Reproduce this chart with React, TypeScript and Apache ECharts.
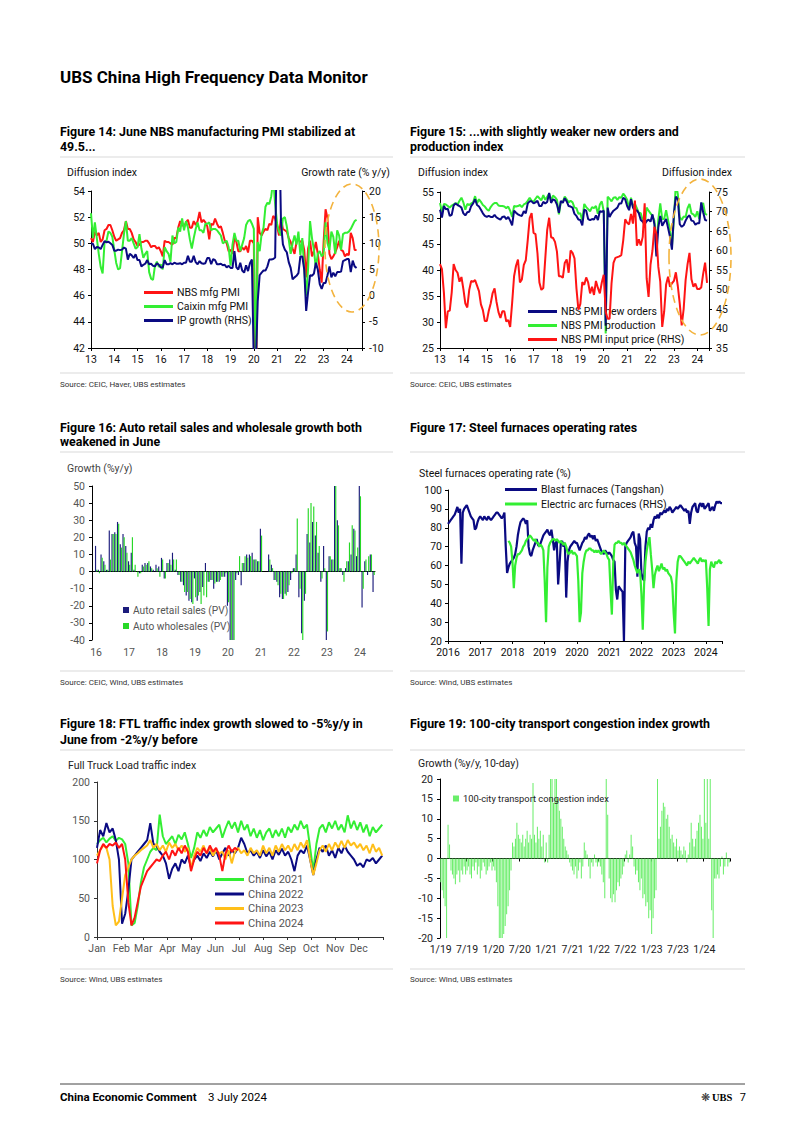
import React, { useEffect, useRef } from "react";
import * as echarts from "echarts";

// ---------------- Figure 14 / 15: monthly, Jan 2013 - Jun 2024 ----------------
const pmiStartYear = 2013;
const nbsMfgPmi = [
  50.4, 50.1, 50.9, 50.6, 50.8, 50.1, 50.3, 51.0, 51.1, 51.4, 51.4, 51.0,
  50.5, 50.2, 50.3, 50.4, 50.8, 51.0, 51.7, 51.1, 51.1, 50.8, 50.3, 50.1,
  49.8, 49.9, 50.1, 50.1, 50.2, 50.2, 50.0, 49.7, 49.8, 49.8, 49.6, 49.7,
  49.4, 49.0, 50.2, 50.1, 50.1, 50.0, 49.9, 50.4, 50.4, 51.2, 51.7, 51.4,
  51.3, 51.6, 51.8, 51.2, 51.2, 51.7, 51.4, 51.7, 52.4, 51.6, 51.8, 51.6,
  51.3, 50.3, 51.5, 51.4, 51.9, 51.5, 51.2, 51.3, 50.8, 50.2, 50.0, 49.4,
  49.5, 49.2, 50.5, 50.1, 49.4, 49.4, 49.7, 49.5, 49.8, 49.3, 50.2, 50.2,
  50.0, 35.7, 52.0, 50.8, 50.6, 50.9, 51.1, 51.0, 51.5, 51.4, 52.1, 51.9,
  51.3, 50.6, 51.9, 51.1, 51.0, 50.9, 50.4, 50.1, 49.6, 49.2, 50.1, 50.3,
  50.1, 50.2, 49.5, 47.4, 49.6, 50.2, 49.0, 49.4, 50.1, 49.2, 48.0, 47.0,
  50.1, 52.6, 51.9, 49.2, 48.8, 49.0, 49.3, 49.7, 50.2, 49.5, 49.4, 49.0,
  49.2, 49.1, 50.8, 50.4, 49.5, 49.5,
];
const caixinMfgPmi = [
  52.3, 50.4, 51.6, 50.4, 49.2, 48.2, 47.7, 50.1, 50.2, 50.9, 50.8, 50.5,
  49.5, 48.5, 48.0, 48.1, 49.4, 50.7, 51.7, 50.2, 50.2, 50.4, 50.0, 49.6,
  49.7, 50.7, 49.6, 48.9, 49.2, 49.4, 47.8, 47.3, 47.2, 48.3, 48.6, 48.2,
  48.4, 48.0, 49.7, 49.4, 49.2, 48.6, 50.6, 50.0, 50.1, 51.2, 50.9, 51.9,
  51.0, 51.7, 51.2, 50.3, 49.6, 50.4, 51.1, 51.6, 51.0, 51.0, 50.8, 51.5,
  51.5, 51.6, 51.0, 51.1, 51.1, 51.0, 50.8, 50.6, 50.0, 50.1, 50.2, 49.7,
  48.3, 49.9, 50.8, 50.2, 50.2, 49.4, 49.9, 50.4, 51.4, 51.7, 51.8, 51.5,
  51.1, 40.3, 50.1, 49.4, 50.7, 51.2, 52.8, 53.1, 53.0, 53.6, 54.9, 53.0,
  51.5, 50.9, 50.6, 51.9, 52.0, 51.3, 50.3, 49.2, 50.0, 50.6, 49.9, 50.9,
  49.1, 50.4, 48.1, 46.0, 48.1, 51.7, 50.4, 49.5, 48.1, 49.2, 49.4, 49.0,
  49.2, 51.6, 50.0, 49.5, 50.9, 50.5, 49.2, 51.0, 50.6, 49.5, 50.7, 50.8,
  50.8, 50.9, 51.1, 51.4, 51.7, 51.8,
];
const ipGrowth = [
  9.9, 9.9, 8.9, 9.3, 9.2, 8.9, 9.7, 10.4, 10.2, 10.3, 10.0, 9.7,
  8.6, 8.6, 8.8, 8.7, 8.8, 9.2, 9.0, 6.9, 8.0, 7.7, 7.2, 7.9,
  6.8, 6.8, 5.6, 5.9, 6.1, 6.8, 6.0, 6.1, 5.7, 5.6, 6.2, 5.9,
  5.4, 5.4, 6.8, 6.0, 6.0, 6.2, 6.0, 6.3, 6.1, 6.1, 6.2, 6.0,
  6.3, 6.3, 7.6, 6.5, 6.5, 7.6, 6.4, 6.0, 6.6, 6.2, 6.1, 6.2,
  7.2, 7.2, 6.0, 7.0, 6.8, 6.0, 6.0, 6.1, 5.8, 5.9, 5.4, 5.7,
  5.3, 5.3, 8.5, 5.4, 5.0, 6.3, 4.8, 4.4, 5.8, 4.7, 6.2, 6.9,
  -13.5, -13.5, -1.1, 3.9, 4.4, 4.8, 4.8, 5.6, 6.9, 6.9, 7.0, 7.3,
  35.1, 35.1, 14.1, 9.8, 8.8, 8.3, 6.4, 5.3, 3.1, 3.5, 3.8, 4.3,
  7.5, 7.5, 5.0, -2.9, 0.7, 3.9, 3.8, 4.2, 6.3, 5.0, 2.2, 1.3,
  2.4, 2.4, 3.9, 5.6, 3.5, 4.4, 3.7, 4.5, 4.5, 4.6, 6.6, 6.8,
  7.0, 7.0, 4.5, 6.7, 5.6, 5.3,
];
const nbsNewOrders = [
  51.6, 50.1, 52.3, 51.7, 51.8, 50.4, 50.6, 52.4, 52.8, 52.5, 52.3, 52.0,
  50.9, 50.5, 51.1, 51.2, 52.3, 52.8, 53.6, 52.5, 52.2, 51.6, 50.9, 50.4,
  50.2, 50.4, 50.2, 50.2, 50.6, 50.1, 49.9, 49.7, 50.2, 50.3, 49.8, 50.2,
  49.5, 48.6, 51.4, 51.0, 50.7, 50.5, 50.4, 51.3, 50.9, 52.8, 53.2, 53.2,
  52.8, 53.0, 53.3, 52.3, 52.3, 53.1, 52.8, 53.1, 54.8, 52.9, 53.6, 53.4,
  52.6, 51.0, 53.3, 52.9, 53.8, 53.2, 52.3, 52.2, 52.0, 50.8, 50.4, 49.7,
  49.6, 48.6, 51.6, 51.4, 49.8, 49.6, 49.8, 49.7, 50.5, 49.6, 51.3, 51.2,
  51.4, 29.3, 52.0, 50.2, 50.9, 51.4, 51.7, 52.0, 52.8, 52.8, 53.9, 53.6,
  52.3, 51.5, 53.6, 52.0, 51.3, 51.5, 50.9, 49.6, 49.3, 48.8, 49.4, 49.7,
  49.3, 50.7, 48.8, 42.6, 48.2, 50.4, 48.5, 49.2, 49.8, 48.1, 46.4, 43.9,
  50.9, 54.1, 53.6, 48.8, 48.3, 48.6, 49.5, 50.2, 50.5, 49.5, 49.4, 48.7,
  49.0, 49.0, 53.0, 51.1, 49.6, 49.5,
];
const nbsProduction = [
  52.9, 51.2, 52.7, 52.6, 52.3, 52.0, 52.4, 52.6, 52.9, 52.6, 53.3, 53.9,
  53.0, 51.6, 52.7, 52.5, 52.8, 53.0, 54.2, 52.8, 53.6, 53.1, 52.5, 52.2,
  51.7, 51.4, 52.1, 52.6, 52.9, 52.9, 52.4, 52.3, 52.3, 52.2, 51.9, 52.2,
  51.4, 50.2, 52.3, 52.2, 52.3, 52.5, 52.1, 52.6, 52.8, 53.3, 53.9, 53.3,
  53.1, 53.7, 54.2, 53.8, 53.4, 54.4, 53.5, 54.1, 54.7, 53.4, 54.3, 54.0,
  53.5, 50.7, 53.1, 53.1, 54.1, 53.6, 53.0, 53.3, 53.0, 52.0, 51.9, 50.8,
  50.9, 49.5, 52.7, 52.1, 51.7, 51.3, 52.1, 51.9, 52.3, 50.8, 52.6, 53.2,
  51.3, 27.8, 54.1, 53.7, 53.2, 53.9, 54.0, 53.5, 54.0, 53.9, 54.7, 54.2,
  53.5, 51.9, 53.9, 52.2, 52.7, 51.9, 51.0, 50.9, 49.5, 48.4, 52.0, 51.4,
  50.9, 50.4, 49.5, 44.4, 49.7, 52.8, 49.8, 49.8, 51.5, 49.6, 47.8, 44.6,
  49.8, 56.7, 54.6, 50.2, 49.6, 50.3, 50.2, 51.9, 52.7, 50.9, 50.7, 50.2,
  51.3, 49.8, 52.2, 52.9, 50.8, 50.6,
];
const nbsInputPrice = [
  56.5, 55.2, 49.2, 40.1, 44.4, 44.6, 49.2, 56.5, 55.0, 54.3, 52.0, 53.2,
  50.1, 46.4, 45.4, 49.9, 52.2, 52.0, 52.4, 51.0, 49.6, 46.2, 44.7, 41.9,
  41.9, 44.5, 46.4, 49.1, 50.3, 46.8, 44.2, 42.7, 44.4, 44.4, 41.8, 42.2,
  40.4, 46.5, 53.4, 56.1, 57.7, 51.8, 52.6, 56.3, 57.5, 62.6, 68.3, 69.6,
  64.5, 64.2, 59.3, 51.8, 49.9, 50.4, 57.9, 65.3, 68.4, 63.4, 63.2, 62.2,
  59.7, 53.4, 53.4, 53.0, 56.8, 57.7, 54.3, 60.0, 59.4, 58.0, 50.3, 44.8,
  46.3, 51.9, 51.2, 53.1, 51.8, 49.0, 50.7, 48.6, 52.2, 50.4, 49.0, 51.8,
  53.8, 44.3, 42.5, 42.5, 51.6, 56.8, 58.1, 58.3, 58.5, 58.8, 62.6, 68.0,
  67.1, 66.7, 69.4, 66.9, 72.8, 61.2, 62.9, 61.3, 63.5, 72.1, 52.9, 48.1,
  56.4, 60.0, 66.1, 64.2, 55.8, 52.0, 40.4, 44.3, 51.3, 53.3, 50.7, 51.6,
  52.2, 54.4, 50.9, 46.4, 40.8, 45.0, 52.4, 56.5, 59.4, 52.6, 50.7, 51.5,
  50.1, 50.1, 50.5, 54.0, 56.9, 51.7,
];

// ---------------- Figure 16: monthly, Dec 2015 - Jun 2024 ----------------
const autoStartYear = 2015;
const autoStartMonthIndex = 11; // December
const autoRetail = [
  0,
  15, 1, 10, 6, 1, 24, 22, 23, 29, 16, 22, 15,
  6, 11, 1, 0, -1, 4, 5, 5, 3, 1, 4, 3,
  8, -4, 5, 7, 11, 1, -2, -6, -8, -14, -17, -18,
  -4, -17, -12, -9, 5, -6, -5, -10, -6, -6, -3, -3,
  -20, -45, -40, -5, -2, -8, 5, 10, 10, 11, 7, 6,
  25, null, null, 10, 4, -5, -6, -15, -16, -13, -12, -5,
  2, 10, -15, -36, -17, 22, 17, 29, 21, 11, -6, 15,
  -40, 9, 7, 55, 30, 2, -2, 2, 6, 10, 25, 9,
  53, -21, 6, -2, 10, -12,
];
const autoWholesale = [
  0,
  1, -1, 8, 4, 1, 7, 22, 22, 28, 14, 20, 11,
  4, 20, 4, -3, -1, 3, 4, 6, 2, 0, 2, -3,
  7, -4, 5, 4, 7, 7, -2, -6, -12, -12, -16, -19,
  -15, -14, -19, -14, -15, -6, -5, -7, -6, -5, -3, -1,
  -18, -45, -40, -1, 9, 5, 9, 8, 9, 7, 7, 6,
  21, null, null, 7, 2, -5, -8, -13, -16, -14, -8, -1,
  2, 31, -10, -47, -13, 37, 40, 38, 29, 15, -4, 2,
  -35, 9, 7, 86, 27, 2, -6, 6, 17, 27, 24, 14,
  44, -10, 7, 9, 10, -2,
];

// ---------------- Figure 17: semi-monthly from 2016 ----------------
const steelStartYear = 2016;
const steelPeriodsPerYear = 24;
const eafStartOffset = 45; // EAF series starts late 2017
const blastFurnace = [
  82, 83, 84, 85, 86, 87, 89, 91, 88, 90, 61, 88, 90, 91, 92, 90, 88, 86, 85, 84, 79, 80, 83, 85,
  86, 85, 84, 86, 85, 84, 86, 85, 84, 85, 86, 87, 88, 88, 87, 86, 85, 86, 88, 70, 56, 59, 61, 62,
  63, 64, 66, 70, 76, 80, 83, 84, 85, 84, 82, 84, 70, 66, 65, 68, 70, 72, 74, 71, 70, 72, 74, 76,
  77, 78, 79, 77, 76, 79, 74, 68, 72, 73, 50, 60, 72, 73, 70, 72, 43, 62, 68, 70, 71, 72, 73, 72,
  72, 70, 68, 70, 72, 73, 75, 74, 76, 77, 75, 76, 74, 76, 73, 74, 72, 70, 68, 67, 66, 68, 67, 66,
  67, 66, 65, 63, 62, 47, 42, 49, 48, 47, 46, 20, 70, 72, 73, 74, 75, 77, 78, 72, 70, 54, 77, 74,
  56, 53, 52, 70, 78, 80, 79, 82, 80, 84, 86, 85, 87, 85, 88, 87, 88, 89, 88, 90, 89, 91, 90, 88,
  89, 90, 91, 90, 91, 92, 91, 90, 89, 90, 88, 89, 82, 88, 91, 92, 93, 89, 88, 92, 93, 91, 93, 90,
  91, 92, 93, 89, 90, 91, 89, 92, 94, 93, 94, 93, 93,
];
const eafRate = [
  73, 72, 70,
  62, 48, 60, 64, 66, 66, 67, 68, 70, 71, 73, 74, 75, 76, 75, 74, 73, 74, 72, 72, 70, 71, 70, 68,
  52, 30, 59, 70, 72, 73, 74, 74, 73, 74, 73, 72, 73, 72, 71, 72, 70, 67, 66, 67, 68, 66, 67, 66,
  65, 52, 30, 35, 56, 62, 66, 68, 68, 69, 69, 68, 68, 67, 68, 67, 68, 67, 66, 67, 68, 67, 66, 64,
  63, 47, 34, 61, 71, 72, 72, 73, 72, 72, 71, 72, 71, 70, 69, 68, 67, 65, 63, 60, 58, 56, 58, 57,
  45, 26, 50, 62, 68, 72, 75, 66, 58, 48, 55, 58, 60, 57, 59, 61, 58, 59, 57, 58, 56, 55, 54, 50,
  35, 24, 52, 62, 65, 65, 64, 63, 62, 61, 60, 62, 61, 62, 63, 64, 63, 62, 61, 63, 64, 62, 63, 62,
  63, 48, 28, 58, 62, 60, 59, 62, 61, 62, 63, 61, 62,
];

// ---------------- Figure 18: every 4 days through the year ----------------
const ftlStepDays = 4;
const ftl2021 = [
  120, 125, 128, 122, 127, 130, 124, 128,
  126, 120, 95, 15, 18, 40, 70, 90,
  100, 110, 115, 112, 158, 130, 120, 125,
  130, 120, 132, 126, 135, 120, 102, 115,
  135, 128, 138, 130, 142, 135, 140, 145,
  128, 140, 150, 140, 148, 135, 150, 138,
  145, 130, 140, 128, 138, 125, 135, 140,
  128, 138, 130, 140, 128, 142, 135, 145,
  138, 150, 140, 145, 115, 85, 120, 140,
  145, 135, 148, 140, 150, 138, 145, 135,
  157, 140, 150, 138, 148, 135, 145, 130,
  142, 135, 140, 145,
];
const ftl2022 = [
  115, 138, 130, 147, 135, 140, 125, 100,
  17, 30, 60, 100, 105, 110, 115, 120,
  125, 147, 120, 118, 110, 105, 95, 75,
  88, 95, 85, 100, 95, 105, 90, 100,
  105, 98, 108, 102, 110, 104, 112, 100,
  108, 115, 105, 112, 108, 115, 128, 120,
  108, 112, 105, 110, 102, 112, 104, 110,
  100, 112, 106, 114, 105, 110, 100, 85,
  105, 112, 108, 118, 100, 80, 100, 115,
  110, 118, 105, 112, 102, 115, 108, 118,
  110, 105, 100, 92, 95, 90, 100, 98,
  102, 95, 100, 105,
];
const ftl2023 = [
  105, 112, 118, 115, 100, 40, 15, 20,
  50, 80, 90, 100, 105, 108, 112, 115,
  118, 125, 115, 120, 112, 118, 110, 122,
  115, 120, 112, 118, 110, 115, 88, 105,
  115, 110, 118, 108, 115, 105, 112, 108,
  110, 100, 112, 95, 110, 115, 108, 112,
  105, 115, 108, 112, 105, 118, 108, 115,
  105, 118, 110, 120, 112, 118, 110, 120,
  112, 122, 115, 125, 100, 80, 95, 112,
  118, 110, 120, 112, 122, 115, 124, 115,
  125, 118, 122, 115, 120, 112, 118, 108,
  120, 110, 115, 105,
];
const ftl2024 = [
  95, 112, 120, 115, 120, 118, 122, 115,
  120, 100, 45, 15, 25, 45, 65, 75,
  85, 90, 95, 100, 98, 105, 110, 100,
  112, 105, 115, 108, 118, 110, 85, 100,
  110, 105, 115, 108, 118, 110, 115, 105,
  85, 108, 118, 110, 115, 112,
];
const monthStartDays = [0, 31, 59, 90, 120, 151, 181, 212, 243, 273, 304, 334];
const monthNames = ["Jan", "Feb", "Mar", "Apr", "May", "Jun", "Jul", "Aug", "Sep", "Oct", "Nov", "Dec"];

// ---------------- Figure 19: 10-day periods, Jan 2019 - Jun 2024 ----------------
const congestionStartYear = 2019;
const congestion = [
  -6, -8, -10, -12, -20, 8.5, 3.5, -3, -4, -5, -6.5, -4, -3, -6, -3, -4, -2, -4,
  -3, -2, -4, -5, -2, -3, -1, -4, -2, -5, -3, -1, -2, -4, -3, -2, -1, -3,
  -2, -3, -6, -12, -20, -20, -20, -19, -17, -14, -12, -8, -3, 4, 3, 5, 9, 6,
  5, 4, 6, 3, 5, 7, 4, 6, 5, 19, 6, 4, 8, 5, 7, 3, 6, -1,
  4, -1, 6, 20, 20, 14, 20, 20, 15, 12, 10, 8, 5, 3, 2, 1, -1, -2,
  -3, -4, -2, -5, -3, -1, -5, -2, 4, 2, 1, -2, -5, -1, -2, 1, -1, -2,
  -1, -2, -4, -6, -10, 20, 11, -5, -10, -11, -9, -11, -8, -6, -7, -5, -4, -2,
  1, 2, -1, 1, 6, 3, -2, -4, -3, -6, -8, -5, -10, -9, -12, -11, -15, -13,
  -19, -15, -10, -8, 20, 5, 8, 12, 14, 13, 10, 11, 8, 5, 6, 4, 3, 5,
  2, 3, 2, 1, 3, 2, -1, 1, 4, 9, 5, 3, 5, 7, 9, 11, 8, 5,
  20, 9, 20, 5, 20, -13, -20, -5, -5, -4, -5, -2, 0.5, -4, -2, 1.5, -2, -1,
];

// ---------------- colours / fonts ----------------
const FONT = "Roboto, 'Noto Sans', sans-serif";
const RED = "#ff1414";
const GREEN = "#33ee33";
const NAVY = "#0a0a82";
const YELLOW = "#ffbf1a";
const BAR_GREEN = "#6aee6a";

const toXY = (arr: (number | null)[], start: number, step: number) =>
  arr.map((v, i) => [start + i * step, v]);

const autoMonths = autoRetail.map((_, i) => {
  const m = autoStartMonthIndex + i;
  const y = autoStartYear + Math.floor(m / 12);
  return `${y}-${String((m % 12) + 1).padStart(2, "0")}`;
});
const congestionPeriods = congestion.map((_, i) => {
  const mi = Math.floor(i / 3);
  const y = congestionStartYear + Math.floor(mi / 12);
  return `${(mi % 12) + 1}/${String(y).slice(2)}#${i % 3}`;
});

function txt(x: number, y: number, text: string, o: any = {}) {
  const align = o.align || "left";
  return {
    type: "text",
    x,
    y,
    z: 100,
    silent: true,
    style: {
      text,
      fill: o.fill || "#000",
      font: `${o.weight || "normal"} ${o.size || 10}px ${o.family || FONT}`,
      textAlign: align,
      textVerticalAlign: "middle",
      align,
      verticalAlign: "middle",
    },
  };
}
function hline(x1: number, x2: number, y: number, color = "#d9d9d9", w = 1) {
  return { type: "line", z: 100, silent: true, shape: { x1, y1: y, x2, y2: y }, style: { stroke: color, lineWidth: w } };
}
function ellipse(cx: number, cy: number, rx: number, ry: number) {
  return {
    type: "ellipse",
    z: 100,
    silent: true,
    shape: { cx, cy, rx, ry },
    style: { fill: "none", stroke: "#f3b33d", lineWidth: 1.6, lineDash: [8, 5] },
  };
}

const axisLine = (color = "#000") => ({ show: true, onZero: false, lineStyle: { color, width: 1 } });
const tick = (color = "#000") => ({ show: true, length: 3, lineStyle: { color, width: 1 } });
const lbl = (color: string, margin: number, extra: any = {}) => ({
  color,
  fontSize: 10.5,
  fontFamily: FONT,
  margin,
  ...extra,
});
const noSplit = { show: false };

const lineSeries = (name: string, data: any[], color: string, xi: number, yi: number, z = 2, width = 2) => ({
  name,
  type: "line",
  xAxisIndex: xi,
  yAxisIndex: yi,
  data,
  showSymbol: false,
  symbol: "none",
  lineStyle: { color, width },
  itemStyle: { color },
  emphasis: { disabled: true },
  z,
});

function buildOption() {
  const yearLabel2 = (v: number) => (Number.isInteger(v) ? String(v - 2000) : "");
  const yearLabel4 = (v: number) => (Number.isInteger(v) ? String(v) : "");

  const grids = [
    { left: 91, top: 191, width: 271, height: 157 },
    { left: 440, top: 192, width: 269, height: 156 },
    { left: 92, top: 486, width: 283, height: 154 },
    { left: 448, top: 490, width: 274, height: 151 },
    { left: 97, top: 782, width: 286, height: 155 },
    { left: 440, top: 779, width: 290, height: 159 },
  ].map((g) => ({ ...g, containLabel: false, outerBoundsMode: "none" }));

  const xAxis: any[] = [
    {
      gridIndex: 0, type: "value", min: 2013, max: 2024.65, interval: 1,
      axisLine: axisLine(), axisTick: tick(), splitLine: noSplit,
      axisLabel: lbl("#111", 6, { formatter: yearLabel2 }),
    },
    {
      gridIndex: 1, type: "value", min: 2013, max: 2024.5, interval: 1,
      axisLine: axisLine(), axisTick: tick(), splitLine: noSplit,
      axisLabel: lbl("#111", 6, { formatter: yearLabel2 }),
    },
    {
      gridIndex: 2, type: "category", data: autoMonths, position: "bottom",
      axisLine: { show: false, onZero: false }, axisTick: { show: false }, splitLine: noSplit,
      axisLabel: lbl("#555", 7, {
        interval: (_i: number, v: string) => v.endsWith("-01"),
        formatter: (v: string) => v.slice(2, 4),
      }),
    },
    {
      gridIndex: 2, type: "category", data: autoMonths, position: "bottom",
      axisLine: { show: true, onZero: true, lineStyle: { color: "#000", width: 1 } },
      axisTick: { show: false }, axisLabel: { show: false }, splitLine: noSplit,
    },
    {
      gridIndex: 3, type: "value", min: 2016, max: 2024.5, interval: 1,
      axisLine: axisLine(), axisTick: tick(), splitLine: noSplit,
      axisLabel: lbl("#111", 6, { formatter: yearLabel4 }),
    },
    {
      gridIndex: 4, type: "value", min: 0, max: 365,
      axisLine: axisLine("#333"),
      axisTick: { ...tick("#333"), customValues: [...monthStartDays, 365] },
      splitLine: noSplit,
      axisLabel: lbl("#555", 6, {
        customValues: monthStartDays,
        formatter: (v: number) => monthNames[monthStartDays.indexOf(v)] || "",
      }),
    },
    {
      gridIndex: 5, type: "category", data: congestionPeriods, position: "bottom",
      axisLine: { show: false, onZero: false }, axisTick: { show: false }, splitLine: noSplit,
      axisLabel: lbl("#222", 6, {
        interval: (_i: number, v: string) => {
          const [md, d] = v.split("#");
          const m = md.split("/")[0];
          return d === "0" && (m === "1" || m === "7");
        },
        formatter: (v: string) => v.split("#")[0],
      }),
    },
    {
      gridIndex: 5, type: "category", data: congestionPeriods, position: "bottom",
      axisLine: { show: true, onZero: true, lineStyle: { color: "#000", width: 1 } },
      axisTick: { show: true, length: 3, interval: (i: number) => i % 18 === 0, lineStyle: { color: "#000" } },
      axisLabel: { show: false }, splitLine: noSplit,
    },
  ];

  const yAxis: any[] = [
    { gridIndex: 0, type: "value", position: "left", min: 42, max: 54, interval: 2, axisLine: axisLine(), axisTick: tick(), splitLine: noSplit, axisLabel: lbl("#111", 6) },
    { gridIndex: 0, type: "value", position: "right", min: -10, max: 20, interval: 5, axisLine: axisLine(), axisTick: tick(), splitLine: noSplit, axisLabel: lbl("#111", 7) },
    { gridIndex: 1, type: "value", position: "left", min: 25, max: 55, interval: 5, axisLine: axisLine(), axisTick: tick(), splitLine: noSplit, axisLabel: lbl("#111", 6) },
    { gridIndex: 1, type: "value", position: "right", min: 35, max: 75, interval: 5, axisLine: axisLine(), axisTick: tick(), splitLine: noSplit, axisLabel: lbl("#111", 7) },
    { gridIndex: 2, type: "value", position: "left", min: -40, max: 50, interval: 10, axisLine: axisLine(), axisTick: tick(), splitLine: noSplit, axisLabel: lbl("#555", 7) },
    { gridIndex: 3, type: "value", position: "left", min: 20, max: 100, interval: 10, axisLine: axisLine(), axisTick: tick(), splitLine: noSplit, axisLabel: lbl("#111", 6) },
    { gridIndex: 4, type: "value", position: "left", min: 0, max: 200, interval: 50, axisLine: axisLine("#333"), axisTick: tick("#333"), splitLine: noSplit, axisLabel: lbl("#555", 7) },
    { gridIndex: 5, type: "value", position: "left", min: -20, max: 20, interval: 5, axisLine: axisLine(), axisTick: tick(), splitLine: noSplit, axisLabel: lbl("#222", 7) },
  ];

  const m12 = 1 / 12;
  const sStep = 1 / steelPeriodsPerYear;
  const dayXY = (arr: number[]) => arr.map((v, i) => [i * ftlStepDays, v]);

  const series: any[] = [
    lineSeries("NBS mfg PMI", toXY(nbsMfgPmi, pmiStartYear, m12), RED, 0, 0, 2),
    lineSeries("Caixin mfg PMI", toXY(caixinMfgPmi, pmiStartYear, m12), GREEN, 0, 0, 3),
    lineSeries("IP growth (RHS)", toXY(ipGrowth, pmiStartYear, m12), NAVY, 0, 1, 4),
    lineSeries("NBS PMI production", toXY(nbsProduction, pmiStartYear, m12), GREEN, 1, 2, 2),
    lineSeries("NBS PMI new orders", toXY(nbsNewOrders, pmiStartYear, m12), NAVY, 1, 2, 3),
    lineSeries("NBS PMI input price (RHS)", toXY(nbsInputPrice, pmiStartYear, m12), RED, 1, 3, 4),
    {
      name: "Auto retail sales (PV)", type: "bar", xAxisIndex: 2, yAxisIndex: 4, data: autoRetail,
      itemStyle: { color: "#1c1c7c" }, barGap: "0%", barCategoryGap: "16%", emphasis: { disabled: true },
    },
    {
      name: "Auto wholesales (PV)", type: "bar", xAxisIndex: 2, yAxisIndex: 4, data: autoWholesale,
      itemStyle: { color: "#27d827" }, barGap: "0%", barCategoryGap: "16%", emphasis: { disabled: true },
    },
    lineSeries("Blast furnaces (Tangshan)", toXY(blastFurnace, steelStartYear, sStep), NAVY, 4, 5, 2, 2.2),
    lineSeries(
      "Electric arc furnaces (RHS)",
      toXY(eafRate, steelStartYear + eafStartOffset * sStep, sStep),
      GREEN, 4, 5, 3, 2.2
    ),
    lineSeries("China 2021", dayXY(ftl2021), GREEN, 5, 6, 2),
    lineSeries("China 2022", dayXY(ftl2022), NAVY, 5, 6, 3),
    lineSeries("China 2023", dayXY(ftl2023), YELLOW, 5, 6, 4),
    lineSeries("China 2024", dayXY(ftl2024), RED, 5, 6, 5),
    {
      name: "100-city transport congestion index", type: "bar", xAxisIndex: 6, yAxisIndex: 7, data: congestion,
      itemStyle: { color: BAR_GREEN }, barCategoryGap: "30%", emphasis: { disabled: true },
    },
  ];

  const legendBase = (left: number, top: number, data: string[], o: any = {}) => ({
    left, top, orient: "vertical", data, padding: 0, selectedMode: false,
    icon: "rect", itemWidth: o.w ?? 29, itemHeight: o.h ?? 3, itemGap: o.gap ?? 3,
    textStyle: { fontSize: o.size ?? 10.5, color: o.color ?? "#111", fontFamily: FONT, padding: [0, 0, 0, -1] },
  });

  const legend = [
    legendBase(144, 287, ["NBS mfg PMI", "Caixin mfg PMI", "IP growth (RHS)"]),
    legendBase(528, 306, ["NBS PMI new orders", "NBS PMI production", "NBS PMI input price (RHS)"]),
    legendBase(123, 605, ["Auto retail sales (PV)", "Auto wholesales (PV)"], { w: 6, h: 6, gap: 6, size: 10.2, color: "#555" }),
    legendBase(505, 484, ["Blast furnaces (Tangshan)", "Electric arc furnaces (RHS)"], { w: 32, gap: 3.5 }),
    legendBase(215, 874, ["China 2021", "China 2022", "China 2023", "China 2024"], { gap: 3.5, size: 11, color: "#555" }),
    legendBase(453, 794, ["100-city transport congestion index"], { w: 6, h: 6, size: 9.3, color: "#222" }),
  ];

  const L0 = 60, L1 = 393, R0 = 410, R1 = 745;
  const TS = 12.4;
  const graphic: any[] = [
    txt(60, 77, "UBS China High Frequency Data Monitor", { weight: "bold", size: 17 }),
    txt(60, 131, "Figure 14: June NBS manufacturing PMI stabilized at", { weight: "bold", size: TS }),
    txt(60, 146, "49.5...", { weight: "bold", size: TS }),
    txt(410, 131, "Figure 15: ...with slightly weaker new orders and", { weight: "bold", size: TS }),
    txt(410, 146, "production index", { weight: "bold", size: TS }),
    hline(L0, L1, 157), hline(R0, R1, 157),
    txt(67, 172, "Diffusion index", { size: 10.5, fill: "#111" }),
    txt(390, 172, "Growth rate (% y/y)", { size: 10.5, fill: "#111", align: "right" }),
    txt(418, 172, "Diffusion index", { size: 10.5, fill: "#111" }),
    txt(732, 172, "Diffusion index", { size: 10.5, fill: "#111", align: "right" }),
    ellipse(352, 248, 27, 64),
    ellipse(700, 257, 31, 78),
    hline(L0, L1, 373), hline(R0, R1, 373),
    txt(60, 384, "Source: CEIC, Haver, UBS estimates", { size: 8, fill: "#333" }),
    txt(410, 384, "Source: CEIC, UBS estimates", { size: 8, fill: "#333" }),
    txt(60, 427, "Figure 16: Auto retail sales and wholesale growth both", { weight: "bold", size: TS }),
    txt(60, 441, "weakened in June", { weight: "bold", size: TS }),
    txt(410, 427, "Figure 17: Steel furnaces operating rates", { weight: "bold", size: TS }),
    hline(L0, L1, 452), hline(R0, R1, 452),
    txt(67, 468, "Growth (%y/y)", { size: 10.5, fill: "#444" }),
    txt(419, 473, "Steel furnaces operating rate (%)", { size: 10.5, fill: "#111" }),
    hline(L0, L1, 671), hline(R0, R1, 671),
    txt(60, 682, "Source: CEIC, Wind, UBS estimates", { size: 8, fill: "#333" }),
    txt(410, 682, "Source: Wind, UBS estimates", { size: 8, fill: "#333" }),
    txt(60, 723, "Figure 18: FTL traffic index growth slowed to -5%y/y in", { weight: "bold", size: TS }),
    txt(60, 739, "June from -2%y/y before", { weight: "bold", size: TS }),
    txt(410, 723, "Figure 19: 100-city transport congestion index growth", { weight: "bold", size: TS }),
    hline(L0, L1, 750), hline(R0, R1, 750),
    txt(68, 765, "Full Truck Load traffic index", { size: 10.5, fill: "#222" }),
    txt(418, 763, "Growth (%y/y, 10-day)", { size: 10.5, fill: "#222" }),
    hline(L0, L1, 969), hline(R0, R1, 969),
    txt(60, 979, "Source: Wind, UBS estimates", { size: 8, fill: "#333" }),
    txt(410, 979, "Source: Wind, UBS estimates", { size: 8, fill: "#333" }),
    hline(60, 745, 1084, "#444", 1),
    txt(60, 1097, "China Economic Comment", { weight: "bold", size: 11.5 }),
    txt(208, 1097, "3 July 2024", { size: 11.5 }),
    txt(701, 1097, "❋", { size: 11, family: "'DejaVu Sans'", fill: "#333" }),
    txt(712, 1097, "UBS", { weight: "bold", size: 10.5, family: "'Liberation Serif', serif" }),
    txt(746, 1097, "7", { size: 11, align: "right" }),
  ];

  return {
    animation: false,
    backgroundColor: "#fff",
    textStyle: { fontFamily: FONT },
    grid: grids,
    xAxis,
    yAxis,
    series,
    legend,
    graphic: { elements: graphic },
  };
}

export default function App() {
  const ref = useRef<HTMLDivElement>(null);
  useEffect(() => {
    const chart = echarts.init(ref.current as HTMLDivElement, null, { renderer: "svg" });
    chart.setOption(buildOption() as any);
    return () => chart.dispose();
  }, []);
  return (
    <div
      ref={ref}
      style={{ position: "absolute", left: 0, top: 0, width: 802, height: 1134, background: "#fff" }}
    />
  );
}
